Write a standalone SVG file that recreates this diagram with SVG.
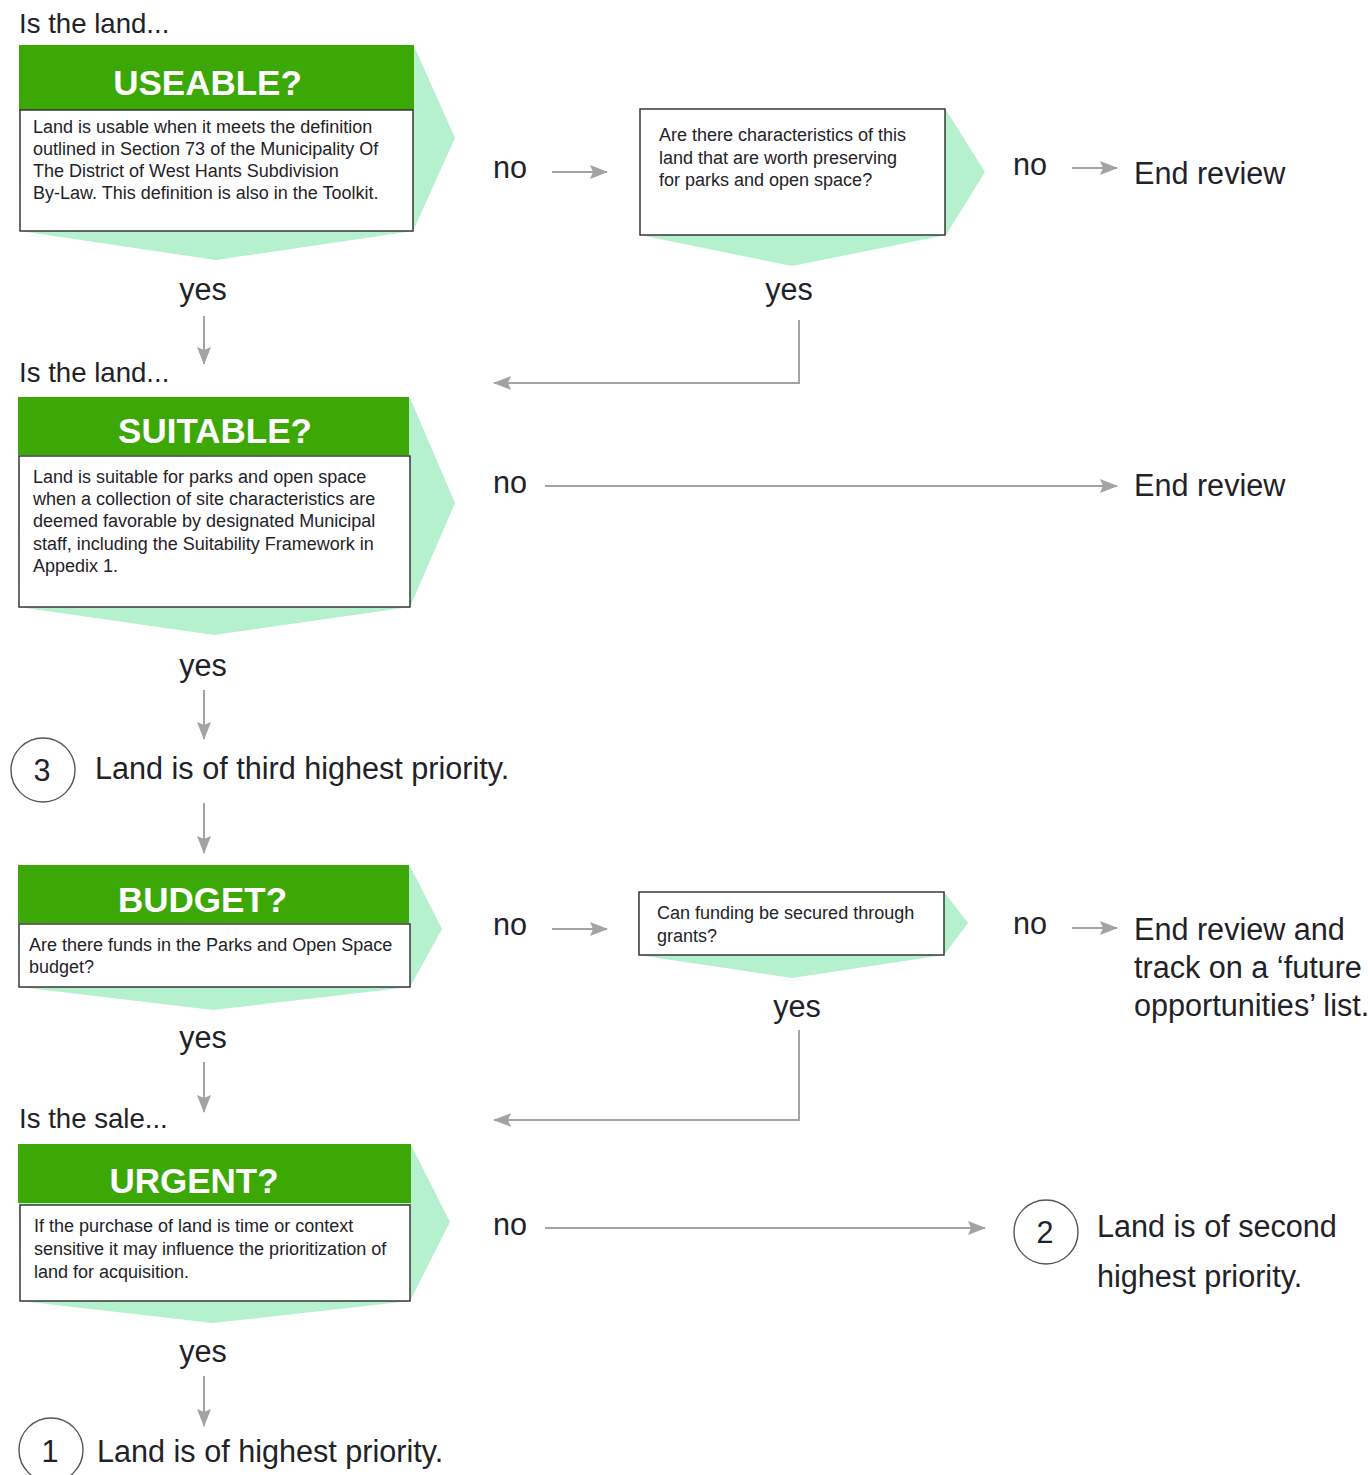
<svg xmlns="http://www.w3.org/2000/svg" width="1371" height="1475" viewBox="0 0 1371 1475">
<style>
  text { font-family: "Liberation Sans", Arial, sans-serif; fill: #1f2328; }
  .hdr { fill: #3ca805; }
  .hdrt { fill: #ffffff; font-weight: bold; font-size: 35px; text-anchor: middle; }
  .body { fill: #ffffff; stroke: #2b2b2b; stroke-width: 1.4; }
  .glow { fill: #b5f0cf; }
  .sm { font-size: 18px; }
  .lg { font-size: 30.6px; }
  .lead { font-size: 27.6px; }
  .mid { text-anchor: middle; }
  .conn { fill: none; stroke: #a3a3a3; stroke-width: 2; }
  .circ { fill: #ffffff; stroke: #555555; stroke-width: 1.4; }
</style>
<defs>
  <marker id="arr" viewBox="0 0 18 14" refX="17" refY="7" markerWidth="18" markerHeight="14" markerUnits="userSpaceOnUse" orient="auto">
    <path d="M0,0 L18,7 L0,14 L3,7 Z" fill="#a3a3a3"/>
  </marker>
</defs>
<rect width="1371" height="1475" fill="#ffffff"/>

<g id="connectors">
  <line class="conn" x1="204" y1="316" x2="204" y2="364" marker-end="url(#arr)"/>
  <line class="conn" x1="552" y1="172" x2="607" y2="172" marker-end="url(#arr)"/>
  <line class="conn" x1="1072" y1="168" x2="1117" y2="168" marker-end="url(#arr)"/>
  <polyline class="conn" points="799,320 799,383 494,383" marker-end="url(#arr)"/>
  <line class="conn" x1="545" y1="486" x2="1117" y2="486" marker-end="url(#arr)"/>
  <line class="conn" x1="204" y1="690" x2="204" y2="739" marker-end="url(#arr)"/>
  <line class="conn" x1="204" y1="803" x2="204" y2="853" marker-end="url(#arr)"/>
  <line class="conn" x1="552" y1="929" x2="607" y2="929" marker-end="url(#arr)"/>
  <line class="conn" x1="1072" y1="928" x2="1117" y2="928" marker-end="url(#arr)"/>
  <polyline class="conn" points="799,1030 799,1120 494,1120" marker-end="url(#arr)"/>
  <line class="conn" x1="204" y1="1062" x2="204" y2="1112" marker-end="url(#arr)"/>
  <line class="conn" x1="545" y1="1228" x2="985" y2="1228" marker-end="url(#arr)"/>
  <line class="conn" x1="204" y1="1376" x2="204" y2="1426" marker-end="url(#arr)"/>
</g>

<text class="lead" x="19" y="33">Is the land...</text>
<text class="lead" x="19" y="382">Is the land...</text>
<text class="lead" x="19" y="1128">Is the sale...</text>

<g id="useable">
  <polygon class="glow" points="19,46 414,46 455,138 413,231 216,260 20,231"/>
  <rect class="hdr" x="19" y="45" width="395" height="65"/>
  <rect class="body" x="20" y="110" width="393" height="121"/>
  <text class="hdrt" x="207.5" y="95">USEABLE?</text>
  <text class="sm" x="33" y="133">Land is usable when it meets the definition</text>
  <text class="sm" x="33" y="155">outlined in Section 73 of the Municipality Of</text>
  <text class="sm" x="33" y="177">The District of West Hants Subdivision</text>
  <text class="sm" x="33" y="199">By-Law. This definition is also in the Toolkit.</text>
</g>

<g id="characteristics">
  <polygon class="glow" points="640,110 946,110 985,172 946,235 792,266 640,235"/>
  <rect class="body" x="640" y="109" width="305" height="126"/>
  <text class="sm" x="659" y="141">Are there characteristics of this</text>
  <text class="sm" x="659" y="164">land that are worth preserving</text>
  <text class="sm" x="659" y="186">for parks and open space?</text>
</g>

<g id="suitable">
  <polygon class="glow" points="18,398 410,398 455,503 410,607 214,635 19,607"/>
  <rect class="hdr" x="18" y="397" width="391" height="58"/>
  <rect class="body" x="19" y="456" width="391" height="151"/>
  <text class="hdrt" x="215" y="443">SUITABLE?</text>
  <text class="sm" x="33" y="483">Land is suitable for parks and open space</text>
  <text class="sm" x="33" y="505">when a collection of site characteristics are</text>
  <text class="sm" x="33" y="527">deemed favorable by designated Municipal</text>
  <text class="sm" x="33" y="550">staff, including the Suitability Framework in</text>
  <text class="sm" x="33" y="572">Appedix 1.</text>
</g>

<g id="budget">
  <polygon class="glow" points="18,866 410,866 442,929 410,987 213,1010 19,987"/>
  <rect class="hdr" x="18" y="865" width="391" height="58"/>
  <rect class="body" x="19" y="924" width="391" height="63"/>
  <text class="hdrt" x="202.5" y="912">BUDGET?</text>
  <text class="sm" x="29" y="951">Are there funds in the Parks and Open Space</text>
  <text class="sm" x="29" y="973">budget?</text>
</g>

<g id="grants">
  <polygon class="glow" points="638,892 944,892 968,923 944,955 792,978 638,955"/>
  <rect class="body" x="639" y="892" width="305" height="63"/>
  <text class="sm" x="657" y="919">Can funding be secured through</text>
  <text class="sm" x="657" y="942">grants?</text>
</g>

<g id="urgent">
  <polygon class="glow" points="18,1145 411,1145 450,1222 410,1301 213,1323 20,1301"/>
  <rect class="hdr" x="18" y="1144" width="393" height="59"/>
  <rect class="body" x="20" y="1205" width="390" height="96"/>
  <text class="hdrt" x="194" y="1193">URGENT?</text>
  <text class="sm" x="34" y="1232">If the purchase of land is time or context</text>
  <text class="sm" x="34" y="1255">sensitive it may influence the prioritization of</text>
  <text class="sm" x="34" y="1278">land for acquisition.</text>
</g>

<g id="labels">
  <text class="lg mid" x="203" y="300">yes</text>
  <text class="lg" x="493" y="178">no</text>
  <text class="lg mid" x="789" y="300">yes</text>
  <text class="lg" x="1013" y="175">no</text>
  <text class="lg" x="493" y="493">no</text>
  <text class="lg mid" x="203" y="676">yes</text>
  <text class="lg" x="493" y="935">no</text>
  <text class="lg" x="1013" y="934">no</text>
  <text class="lg mid" x="797" y="1017">yes</text>
  <text class="lg mid" x="203" y="1048">yes</text>
  <text class="lg" x="493" y="1235">no</text>
  <text class="lg mid" x="203" y="1362">yes</text>
</g>

<g id="end-review-1">
  <text class="lg" x="1134" y="184">End review</text>
</g>
<g id="end-review-2">
  <text class="lg" x="1134" y="496">End review</text>
</g>
<g id="end-review-3">
  <text class="lg" x="1134" y="940">End review and</text>
  <text class="lg" x="1134" y="978">track on a ‘future</text>
  <text class="lg" x="1134" y="1016">opportunities’ list.</text>
</g>

<g id="priority-3">
  <circle class="circ" cx="43" cy="770" r="32"/>
  <text class="lg mid" x="42" y="781">3</text>
  <text class="lg" x="95" y="779">Land is of third highest priority.</text>
</g>

<g id="priority-2">
  <circle class="circ" cx="1046" cy="1232" r="32"/>
  <text class="lg mid" x="1045" y="1243">2</text>
  <text class="lg" x="1097" y="1237">Land is of second</text>
  <text class="lg" x="1097" y="1287">highest priority.</text>
</g>

<g id="priority-1">
  <circle class="circ" cx="51" cy="1450" r="32"/>
  <text class="lg mid" x="50" y="1462">1</text>
  <text class="lg" x="97" y="1462">Land is of highest priority.</text>
</g>
</svg>
